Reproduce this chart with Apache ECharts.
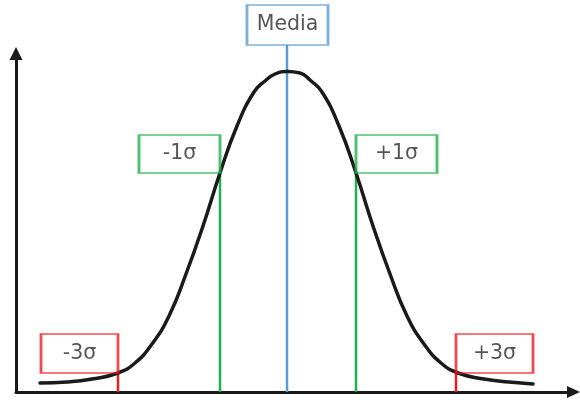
<!DOCTYPE html>
<html>
<head>
<meta charset="utf-8">
<script src="https://cdn.jsdelivr.net/npm/echarts@6/dist/echarts.min.js"></script>
<style>
  html, body { margin: 0; padding: 0; background: #ffffff; }
  #chart { width: 580px; height: 402px; }
</style>
</head>
<body>
<div id="chart"></div>
<script>
// Bell curve: horizontal position (0 = mean) and height above the baseline
const curveX = [-247, -220, -195, -169, -152, -135, -118, -101, -84, -67, -50, -33, -22, -12, 0,
                13, 23, 35, 52, 69, 86, 103, 120, 137, 154, 171, 197, 222, 246];
const curveY = [9, 10, 13, 19, 29, 48, 76, 118, 166, 219, 266, 300, 311, 318, 320.5,
                319, 312, 300, 266, 219, 166, 118, 76, 48, 29, 19, 13, 10, 8];

// Reference lines: label, position, height of the top end, colour
const markerNames = ['-3σ', '-1σ', 'Media', '+1σ', '+3σ'];
const markerPos = [-169, -67, 0, 69, 169];
const markerTop = [19, 219, 347, 219, 19];
const markerColors = ['#ed1c24', '#22b14c', '#5b9bd5', '#22b14c', '#ed1c24'];

// Label box placement relative to the top end of each line
const boxSize = [[77, 39], [81, 38], [81, 40], [81, 38], [77, 39]];
const boxShift = [[-38.5, -19.5], [-40.5, -19], [0.5, -20], [40.5, -19], [38.5, -19.5]];

const chart = echarts.init(document.getElementById('chart'), null, { renderer: 'canvas' });

const series = [];

series.push({
  type: 'line',
  data: curveX.map((x, i) => [x, curveY[i]]),
  smooth: 0.5,
  showSymbol: false,
  symbol: 'none',
  lineStyle: { color: '#1a1a1a', width: 3.5, cap: 'round', join: 'round' },
  z: 3,
  silent: true
});

markerNames.forEach((name, i) => {
  series.push({
    type: 'line',
    data: [[markerPos[i], 0], [markerPos[i], markerTop[i]]],
    showSymbol: false,
    symbol: 'none',
    clip: false,
    lineStyle: { color: markerColors[i], width: 2.5 },
    z: 2,
    silent: true
  });
});

series.push({
  type: 'scatter',
  clip: false,
  silent: true,
  z: 4,
  data: markerNames.map((name, i) => ({
    name: name,
    value: [markerPos[i], markerTop[i]],
    symbol: 'rect',
    symbolSize: boxSize[i],
    symbolOffset: boxShift[i],
    itemStyle: { color: 'rgba(255,255,255,0)', borderColor: markerColors[i], borderWidth: 2 },
    label: {
      show: true,
      position: 'inside',
      formatter: name,
      color: '#2a2a2a',
      fontFamily: 'DejaVu Sans',
      fontSize: 20.5
    }
  }))
});

chart.setOption({
  animation: false,
  backgroundColor: '#ffffff',
  grid: { left: 16, right: 6.5, top: 53.5, bottom: 10, containLabel: false },
  xAxis: {
    type: 'value',
    min: -271,
    max: 286.5,
    axisLine: {
      show: true,
      onZero: false,
      symbol: ['none', 'triangle'],
      symbolSize: [12, 13],
      lineStyle: { color: '#1a1a1a', width: 3 }
    },
    axisTick: { show: false },
    axisLabel: { show: false },
    splitLine: { show: false }
  },
  yAxis: {
    type: 'value',
    min: 0,
    max: 338.5,
    axisLine: {
      show: true,
      onZero: false,
      symbol: ['none', 'triangle'],
      symbolSize: [13, 13],
      lineStyle: { color: '#1a1a1a', width: 3 }
    },
    axisTick: { show: false },
    axisLabel: { show: false },
    splitLine: { show: false }
  },
  series: series
});
</script>
</body>
</html>
